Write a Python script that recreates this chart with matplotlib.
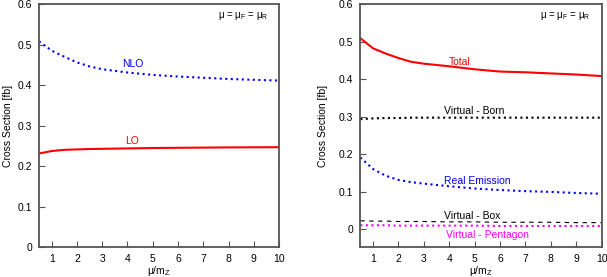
import numpy as np
import matplotlib
matplotlib.use('Agg')
import matplotlib.pyplot as plt

plt.rcParams['font.family'] = ['Liberation Sans', 'DejaVu Sans']
plt.rcParams['mathtext.fontset'] = 'custom'
plt.rcParams['mathtext.rm'] = 'Liberation Sans'
plt.rcParams['mathtext.it'] = 'Liberation Sans'

# scale mu/m_Z
mu = [0.5, 1, 1.5, 2, 2.5, 3, 4, 5, 6, 7, 8, 9, 10]

# left panel
lo = [0.231, 0.237, 0.240, 0.241, 0.242, 0.2425, 0.2435, 0.2445, 0.245, 0.2455, 0.246, 0.2462, 0.2465]
nlo = [0.508, 0.485, 0.470, 0.456, 0.446, 0.439, 0.431, 0.425, 0.421, 0.418, 0.415, 0.413, 0.411]

# right panel
total = [0.509, 0.482, 0.468, 0.456, 0.446, 0.441, 0.434, 0.426, 0.420, 0.418, 0.415, 0.412, 0.408]
born = [0.293, 0.295, 0.296, 0.296, 0.297, 0.297, 0.297, 0.297, 0.297, 0.297, 0.297, 0.297, 0.297]
real = [0.191, 0.160, 0.142, 0.131, 0.125, 0.121, 0.114, 0.108, 0.104, 0.101, 0.099, 0.096, 0.094]
box = [0.022, 0.021, 0.021, 0.020, 0.020, 0.020, 0.019, 0.019, 0.018, 0.018, 0.018, 0.017, 0.017]
pentagon = [0.010, 0.010, 0.010, 0.009, 0.009, 0.009, 0.009, 0.009, 0.008, 0.008, 0.008, 0.008, 0.008]

xticks = [1, 2, 3, 4, 5, 6, 7, 8, 9, 10]
yticks = [0, 0.1, 0.2, 0.3, 0.4, 0.5, 0.6]
fs = 7.5
spine_col = '#555555'

fig = plt.figure(figsize=(6.07, 2.77), dpi=100)
ax1 = fig.add_axes([0.0643, 0.1083, 0.3954, 0.877])
ax2 = fig.add_axes([0.5936, 0.1083, 0.3977, 0.877])


def style(ax, ylim, ylab_x):
    ax.set_xlim(0.5, 10)
    ax.set_ylim(*ylim)
    ax.set_xticks(xticks)
    ax.set_yticks(yticks)
    ax.set_yticklabels(['0' if t == 0 else f'{t:.1f}' for t in yticks])
    ax.tick_params(direction='in', length=4, width=0.8, color=spine_col,
                   labelsize=fs, top=False, right=False, pad=5)
    for s in ax.spines.values():
        s.set_color(spine_col)
        s.set_linewidth(1.3)
    ax.set_xlabel('μ/m$_\\mathregular{Z}$', fontsize=fs, va='center')
    ax.xaxis.set_label_coords(0.5, -0.10)
    ax.set_ylabel('Cross Section [fb]', fontsize=fs, va='center')
    ax.yaxis.set_label_coords(ylab_x, 0.5)
    ax.text(0.85, 0.95, 'μ = μ$_\\mathregular{F}$ = μ$_\\mathregular{R}$',
            transform=ax.transAxes, ha='center', va='center', fontsize=fs - 0.5)


ax1.plot(mu, nlo, color='blue', linestyle=':', lw=1.5)
ax1.plot(mu, lo, color='red', linestyle='-', lw=1.5)
ax1.text(4.2, 0.452, 'NLO', color='blue', ha='center', va='center', fontsize=fs)
ax1.text(4.2, 0.262, 'LO', color='red', ha='center', va='center', fontsize=fs)
style(ax1, (0, 0.6), -0.13)

ax2.plot(mu, total, color='red', linestyle='-', lw=1.5)
ax2.plot(mu, born, color='black', linestyle=':', lw=1.5)
ax2.plot(mu, real, color='blue', linestyle=':', lw=1.5)
ax2.plot(mu, box, color='black', linestyle=(0, (4, 4)), lw=0.8)
ax2.plot(mu, pentagon, color='magenta', linestyle=':', lw=1.5)
ax2.text(4.4, 0.445, 'Total', color='red', ha='center', va='center', fontsize=fs)
ax2.text(5.0, 0.315, 'Virtual - Born', color='black', ha='center', va='center', fontsize=fs)
ax2.text(5.1, 0.128, 'Real Emission', color='blue', ha='center', va='center', fontsize=fs)
ax2.text(4.9, 0.036, 'Virtual - Box', color='black', ha='center', va='center', fontsize=fs)
ax2.text(5.5, -0.017, 'Virtual - Pentagon', color='magenta', ha='center', va='center', fontsize=fs)
style(ax2, (-0.048, 0.6), -0.155)

fig.savefig('out.png', dpi=100)
